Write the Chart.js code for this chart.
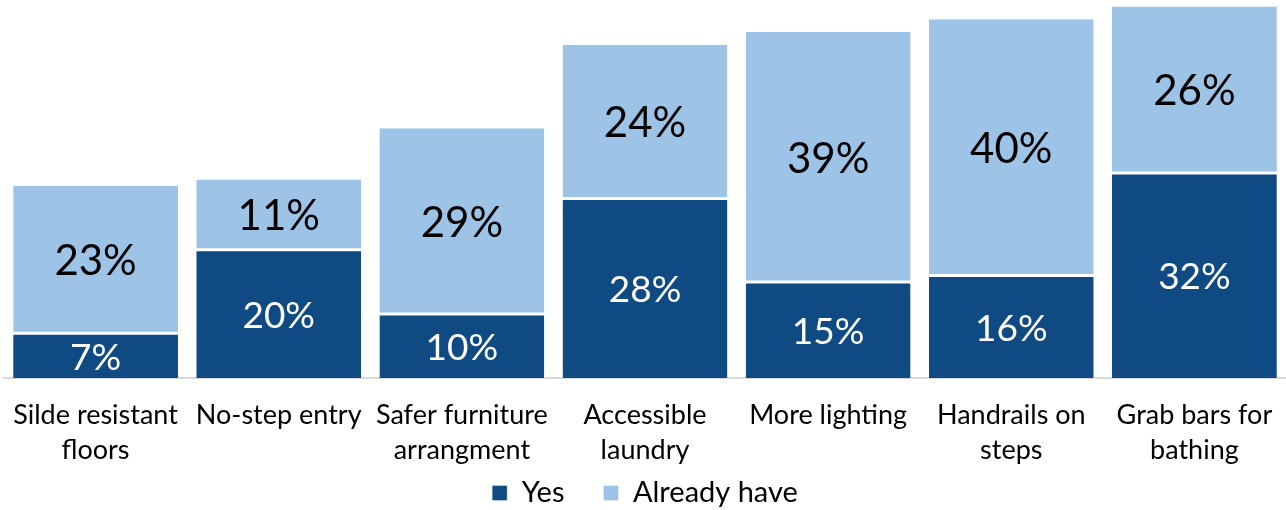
<!DOCTYPE html>
<html>
<head>
<meta charset="utf-8">
<script src="https://cdn.jsdelivr.net/npm/chart.js@4/dist/chart.umd.min.js"></script>
<style>
html,body{margin:0;padding:0;background:#fff;}
#wrap{width:1286px;height:510px;position:relative;}
</style>
</head>
<body>
<div id="wrap"><canvas id="c" width="1286" height="510"></canvas></div>
<script>
const categories = [
  ["Silde resistant", "floors"],
  ["No-step entry"],
  ["Safer furniture", "arrangment"],
  ["Accessible", "laundry"],
  ["More lighting"],
  ["Handrails on", "steps"],
  ["Grab bars for", "bathing"]
];
const yesValues = [7, 20, 10, 28, 15, 16, 32];
const alreadyValues = [23, 11, 29, 24, 39, 40, 26];
const seriesNames = ["Yes", "Already have"];

const FONT = "Lato, 'Open Sans', sans-serif";
const LEGEND_PAD = 39;
const LEGEND_FONT = 29;

const labelPlugin = {
  id: 'segLabels',
  afterDatasetsDraw(chart) {
    const ctx = chart.ctx;
    ctx.save();
    ctx.textAlign = 'center';
    ctx.textBaseline = 'middle';
    chart.data.datasets.forEach((ds, di) => {
      const meta = chart.getDatasetMeta(di);
      meta.data.forEach((bar, i) => {
        const v = ds.data[i];
        const top = Math.min(bar.y, bar.base);
        const bot = Math.max(bar.y, bar.base);
        const cy = (top + bot) / 2;
        if (di === 0) {
          ctx.fillStyle = '#ffffff';
          ctx.font = '37px ' + FONT;
        } else {
          ctx.fillStyle = '#000000';
          ctx.font = '42px ' + FONT;
        }
        ctx.fillText(v + '%', bar.x, cy + 2);
      });
    });
    ctx.restore();
  }
};

// keep the legend compact vertically while keeping a wide gap between items
const legendPlace = {
  id: 'legendPlace',
  beforeLayout(chart) {
    const lg = chart.legend;
    if (lg && !lg.__patched) {
      const fit = lg.fit;
      lg.fit = function () { fit.call(this); this.height = 40; };
      lg.__patched = true;
    }
  },
  afterLayout(chart) {
    const lg = chart.legend;
    if (lg) {
      const center = 493;
      lg.top = center - LEGEND_FONT / 2 - LEGEND_PAD;
      lg.bottom = chart.height;
    }
  }
};

new Chart(document.getElementById('c'), {
  type: 'bar',
  data: {
    labels: categories,
    datasets: [
      {
        label: seriesNames[0],
        data: yesValues,
        backgroundColor: '#0F4A82',
        borderColor: '#ffffff',
        borderWidth: {top: 1.5, left: 0, right: 0, bottom: 0},
        borderSkipped: false,
        categoryPercentage: 0.9,
        barPercentage: 1.0
      },
      {
        label: seriesNames[1],
        data: alreadyValues,
        backgroundColor: '#9DC3E6',
        borderColor: '#ffffff',
        borderWidth: {top: 0, left: 0, right: 0, bottom: 1.5},
        borderSkipped: false,
        categoryPercentage: 0.9,
        barPercentage: 1.0
      }
    ]
  },
  options: {
    responsive: false,
    animation: false,
    layout: {padding: {left: 4, right: 0, top: 0, bottom: 0}},
    plugins: {
      legend: {
        position: 'bottom',
        labels: {
          font: {family: FONT, size: LEGEND_FONT},
          color: '#000',
          boxWidth: 15,
          boxHeight: 15,
          padding: LEGEND_PAD
        }
      },
      tooltip: {enabled: false}
    },
    scales: {
      x: {
        stacked: true,
        grid: {display: false, drawTicks: false},
        border: {display: true, color: '#D9D9D9', width: 2},
        ticks: {
          color: '#000',
          font: {family: FONT, size: 27, lineHeight: 1.3},
          padding: 20,
          maxRotation: 0,
          autoSkip: false
        },
        afterFit(scale) {
          scale.height = 92;
          scale.paddingLeft = 0;
          scale.paddingRight = 0;
        }
      },
      y: {
        stacked: true,
        display: false,
        min: 0,
        max: 59
      }
    }
  },
  plugins: [labelPlugin, legendPlace]
});
</script>
</body>
</html>
